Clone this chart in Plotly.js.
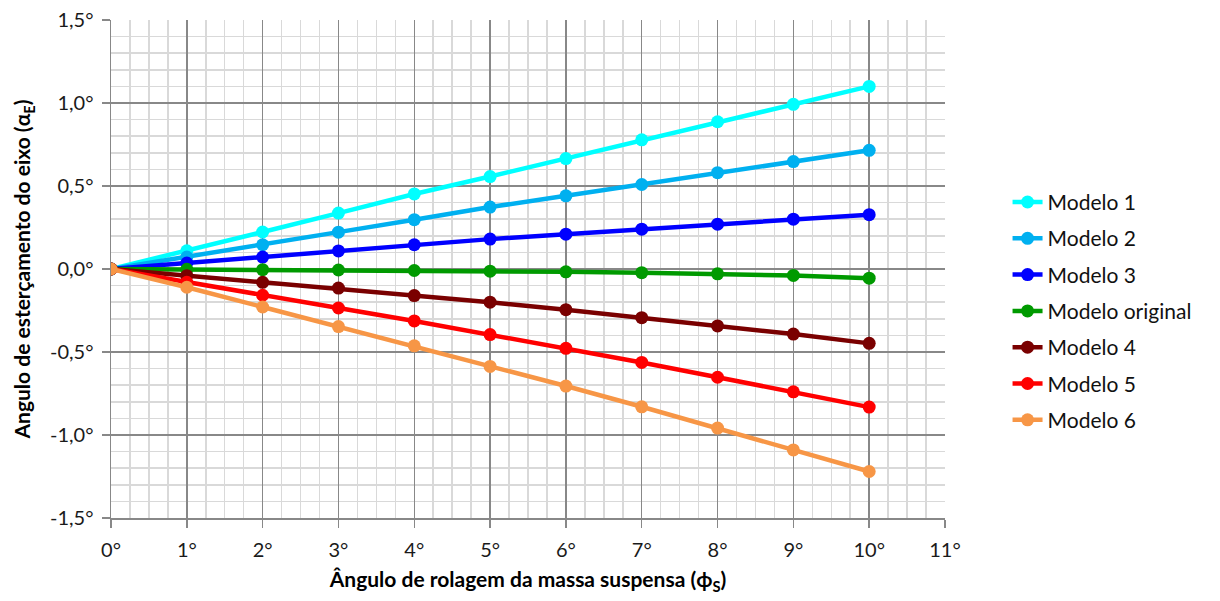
<!DOCTYPE html>
<html>
<head>
<meta charset="utf-8">
<script src="https://cdn.plot.ly/plotly-3.0.1.min.js"></script>
<style>html,body{margin:0;padding:0;background:#fff;}#chart{width:1220px;height:601px;}</style>
</head>
<body>
<div id="chart"></div>
<script>
const rollAngles = [0, 1, 2, 3, 4, 5, 6, 7, 8, 9, 10];
const seriesNames = ["Modelo 1", "Modelo 2", "Modelo 3", "Modelo original", "Modelo 4", "Modelo 5", "Modelo 6"];
const modelo1 = [0, 0.11, 0.223, 0.337, 0.452, 0.557, 0.665, 0.778, 0.887, 0.992, 1.1];
const modelo2 = [0, 0.072, 0.146, 0.222, 0.297, 0.373, 0.441, 0.509, 0.58, 0.647, 0.715];
const modelo3 = [0, 0.036, 0.072, 0.109, 0.146, 0.18, 0.21, 0.24, 0.27, 0.3, 0.327];
const modeloOriginal = [0, -0.002, -0.004, -0.006, -0.009, -0.013, -0.017, -0.022, -0.029, -0.039, -0.055];
const modelo4 = [0, -0.04, -0.08, -0.115, -0.16, -0.2, -0.245, -0.293, -0.343, -0.392, -0.448];
const modelo5 = [0, -0.08, -0.158, -0.235, -0.313, -0.395, -0.478, -0.563, -0.652, -0.74, -0.832];
const modelo6 = [0, -0.11, -0.229, -0.347, -0.463, -0.587, -0.705, -0.83, -0.958, -1.09, -1.22];
const seriesValues = [modelo1, modelo2, modelo3, modeloOriginal, modelo4, modelo5, modelo6];
const seriesColors = ["#00FFFF", "#00B0F0", "#0000FF", "#009A00", "#7A0000", "#FF0000", "#F79646"];
const xTickVals = [0,1,2,3,4,5,6,7,8,9,10,11];
const xTickText = ["0°","1°","2°","3°","4°","5°","6°","7°","8°","9°","10°","11°"];
const yTickVals = [-1.5,-1.0,-0.5,0,0.5,1.0,1.5];
const yTickText = ["-1,5°","-1,0°","-0,5°","0,0°","0,5°","1,0°","1,5°"];

const FONT = "Lato, 'Open Sans', sans-serif";
const traces = seriesNames.map((name, i) => ({
  x: rollAngles,
  y: seriesValues[i],
  name: name,
  legendgroup: "g" + i,
  type: "scatter",
  mode: "lines+markers",
  line: {color: seriesColors[i], width: 4.5},
  marker: {color: seriesColors[i], size: 13}
}));

const layout = {
  width: 1220,
  height: 601,
  margin: {l: 111, r: 275, t: 20, b: 83},
  paper_bgcolor: "#ffffff",
  plot_bgcolor: "#ffffff",
  font: {family: FONT, size: 20, color: "#1a1a1a"},
  showlegend: true,
  legend: {
    x: 1.075, xanchor: "left", y: 0.415, yanchor: "middle",
    font: {family: FONT, size: 21, color: "#111"},
    traceorder: "grouped", tracegroupgap: 6,
    bgcolor: "rgba(0,0,0,0)"
  },
  xaxis: {
    range: [0, 11],
    tickvals: xTickVals, ticktext: xTickText,
    showgrid: true, gridcolor: "#888888", gridwidth: 1.5,
    minor: {dtick: 0.25, showgrid: true, gridcolor: "#d9d9d9", gridwidth: 1.5},
    zeroline: false,
    showline: true, linecolor: "#888888", linewidth: 1.5,
    ticks: "outside", ticklen: 8, tickcolor: "#888888", tickwidth: 1.5,
    ticklabelstandoff: 5,
    tickfont: {family: FONT, size: 20, color: "#1a1a1a"},
    title: {text: "<b>Ângulo de rolagem da massa suspensa (ϕ<sub>S</sub>)</b>", font: {family: FONT, size: 21, color: "#000"}, standoff: 13}
  },
  yaxis: {
    range: [-1.5, 1.5],
    tickvals: yTickVals, ticktext: yTickText,
    showgrid: true, gridcolor: "#888888", gridwidth: 1.5,
    minor: {dtick: 0.1, showgrid: true, gridcolor: "#d9d9d9", gridwidth: 1.5},
    zeroline: false,
    showline: true, linecolor: "#888888", linewidth: 1.5,
    ticks: "outside", ticklen: 8, tickcolor: "#888888", tickwidth: 1.5,
    ticklabelstandoff: 4,
    tickfont: {family: FONT, size: 20, color: "#1a1a1a"},
    title: {text: "<b>Angulo de esterçamento do eixo (α<sub>E</sub>)</b>", font: {family: FONT, size: 21, color: "#000"}, standoff: 13}
  }
};

Plotly.newPlot("chart", traces, layout, {displayModeBar: false, staticPlot: true});
</script>
</body>
</html>
